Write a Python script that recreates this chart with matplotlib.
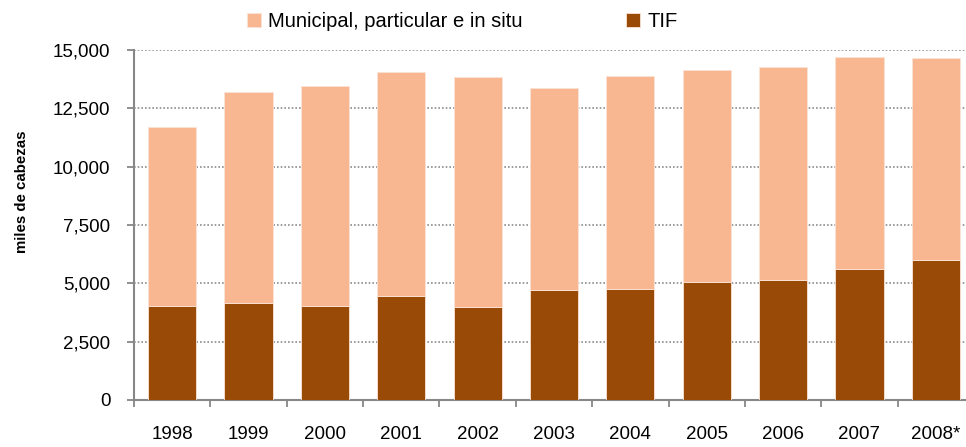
import matplotlib
matplotlib.use("Agg")
import matplotlib.pyplot as plt
import numpy as np

years = ["1998", "1999", "2000", "2001", "2002", "2003", "2004", "2005", "2006", "2007", "2008*"]
tif = [4030, 4160, 4030, 4460, 3990, 4710, 4770, 5060, 5160, 5600, 5990]
total = [11700, 13200, 13460, 14060, 13840, 13390, 13890, 14130, 14270, 14690, 14640]
municipal = [t - f for t, f in zip(total, tif)]

plt.rcParams['font.family'] = ['Liberation Sans', 'DejaVu Sans']

fig = plt.figure(figsize=(9.66, 4.47), dpi=100)
ax = fig.add_axes([134/966, 47/447, 840/966, 350/447])

x = np.arange(len(years))
dark = '#9A4A07'
light = '#F8B691'
ax.bar(x, tif, width=0.63, color=dark, edgecolor='#FBE3D6', linewidth=0.6, label='TIF', zorder=3)
ax.bar(x, municipal, width=0.63, bottom=tif, color=light, edgecolor='#FBE3D6', linewidth=0.6,
       label='Municipal, particular e in situ', zorder=3)

ax.set_xlim(-0.5, len(years) - 0.5)
ax.set_ylim(0, 15000)
ax.set_yticks(np.arange(0, 15001, 2500))
ax.set_yticklabels([f"{v:,}" for v in range(0, 15001, 2500)])
ax.set_xticks(x)
ax.set_xticklabels(years)
ax.set_xticks(np.arange(-0.5, len(years), 1), minor=True)

ax.tick_params(axis='x', which='major', length=0, pad=19, labelsize=13.5, colors='black')
ax.tick_params(axis='x', which='minor', length=5, width=1.3, color='#878787', direction='out')
ax.tick_params(axis='y', length=5, width=1.3, color='#878787', pad=12, labelsize=13.5, direction='out')

for s in ['top', 'right']:
    ax.spines[s].set_visible(False)
for s in ['left', 'bottom']:
    ax.spines[s].set_color('#878787')
    ax.spines[s].set_linewidth(1.5)

ax.yaxis.grid(True, color='#8c8c8c', linestyle=(0, (1, 1.2)), linewidth=1.2, zorder=0)
ax.set_axisbelow(True)

ax.set_ylabel('miles de cabezas', fontsize=10.8, fontweight='bold')
ax.yaxis.set_label_coords((29 - 134) / 840, (400 - 192) / 350)

handles, labels = ax.get_legend_handles_labels()
leg = fig.legend(handles[::-1], labels[::-1], loc='center', bbox_to_anchor=(0.4785, 0.952), ncol=2,
                 frameon=False, fontsize=14.5, handlelength=0.7, handleheight=0.7,
                 handletextpad=0.35, columnspacing=5.15)

fig.savefig('out.png', dpi=100)
